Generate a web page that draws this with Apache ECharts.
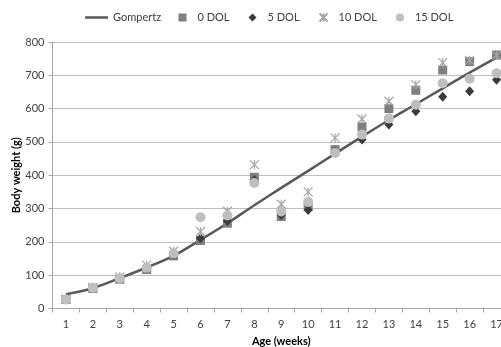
<!DOCTYPE html>
<html>
<head>
<meta charset="utf-8">
<script src="https://cdn.jsdelivr.net/npm/echarts@6/dist/echarts.min.js"></script>
<style>
html,body{margin:0;padding:0;background:#fff;}
#c{width:501px;height:347px;}
</style>
</head>
<body>
<div id="c"></div>
<script>
var categories = ['1','2','3','4','5','6','7','8','9','10','11','12','13','14','15','16','17'];
var gompertz = [43, 61, 91, 123, 158, 206, 256, 310, 362, 413, 465, 516, 566, 613, 661, 708, 753];
var dol0  = [27, 60, 88, 117, 158, 204, 256, 394, 276, 306, 477, 545, 600, 655, 716, 741, 761];
var dol5  = [27, 62, 90, 120, 162, 211, 263, 385, 281, 296, 470, 507, 552, 592, 636, 652, 687];
var dol10 = [28, 63, 95, 130, 172, 231, 292, 432, 313, 350, 512, 569, 622, 672, 738, 745, 760];
var dol15 = [27, 62, 90, 122, 165, 274, 279, 377, 291, 320, 467, 522, 570, 612, 676, 690, 706];
var yTicks = [0, 100, 200, 300, 400, 500, 600, 700, 800];

var FONT = 'Lato, "Liberation Sans", sans-serif';
var starPath = 'path://M0,0L10,10M10,0L0,10M5,0L5,10';

var chart = echarts.init(document.getElementById('c'), null, {renderer: 'canvas'});
chart.setOption({
  animation: false,
  backgroundColor: '#ffffff',
  textStyle: {fontFamily: FONT},
  legend: [
    {
      top: 7,
      left: 80,
      itemWidth: 23,
      itemHeight: 2.5,
      textStyle: {fontFamily: FONT, fontSize: 11, color: '#404040'},
      data: [{name: 'Gompertz', icon: 'rect'}]
    },
    {
      top: 7,
      left: 173.5,
      itemWidth: 8,
      itemHeight: 8,
      itemGap: 19,
      textStyle: {fontFamily: FONT, fontSize: 11, color: '#404040', padding: [0, 0, 0, 6]},
      data: ['0 DOL', '5 DOL', '10 DOL', '15 DOL']
    }
  ],
  grid: {left: 52.5, right: -9, top: 42, bottom: 38.5, containLabel: false, outerBoundsMode: 'none'},
  xAxis: {
    type: 'category',
    data: categories,
    boundaryGap: true,
    name: 'Age (weeks)',
    nameLocation: 'middle',
    nameGap: 27,
    nameTextStyle: {fontFamily: FONT, fontSize: 11, fontWeight: 'bold', color: '#000'},
    axisLine: {lineStyle: {color: '#a6a6a6', width: 1}},
    axisTick: {show: true, length: 4, lineStyle: {color: '#a6a6a6'}},
    axisLabel: {fontFamily: FONT, fontSize: 11, color: '#404040', margin: 10},
    splitLine: {show: false}
  },
  yAxis: {
    type: 'value',
    min: yTicks[0],
    max: yTicks[yTicks.length - 1],
    interval: 100,
    name: 'Body weight (g)',
    nameLocation: 'middle',
    nameRotate: 90,
    nameGap: 31,
    nameMoveOverlap: false,
    nameTextStyle: {fontFamily: FONT, fontSize: 11, fontWeight: 'bold', color: '#000'},
    axisLine: {show: true, lineStyle: {color: '#a6a6a6', width: 1}},
    axisTick: {show: true, length: 4, lineStyle: {color: '#a6a6a6'}},
    axisLabel: {fontFamily: FONT, fontSize: 11, color: '#404040', margin: 8},
    splitLine: {show: true, lineStyle: {color: '#bfbfbf', width: 1}}
  },
  series: [
    {
      name: 'Gompertz', type: 'line', data: gompertz, smooth: 0.3,
      symbol: 'none', z: 1,
      lineStyle: {color: '#595959', width: 2.5},
      itemStyle: {color: '#595959'}
    },
    {
      name: '0 DOL', type: 'scatter', data: dol0, symbol: 'rect', symbolSize: 9, z: 2,
      itemStyle: {color: '#7f7f7f', opacity: 1}
    },
    {
      name: '5 DOL', type: 'scatter', data: dol5, symbol: 'diamond', symbolSize: [9, 10], z: 3,
      itemStyle: {color: '#3a3a3a', opacity: 1}
    },
    {
      name: '10 DOL', type: 'scatter', data: dol10, symbol: starPath, symbolSize: 9, z: 4,
      itemStyle: {color: 'rgba(0,0,0,0)', borderColor: '#a6a6a6', borderWidth: 1.2, opacity: 1}
    },
    {
      name: '15 DOL', type: 'scatter', data: dol15, symbol: 'circle', symbolSize: 10, z: 5,
      itemStyle: {color: '#bfbfbf', opacity: 1}
    }
  ]
});
</script>
</body>
</html>
